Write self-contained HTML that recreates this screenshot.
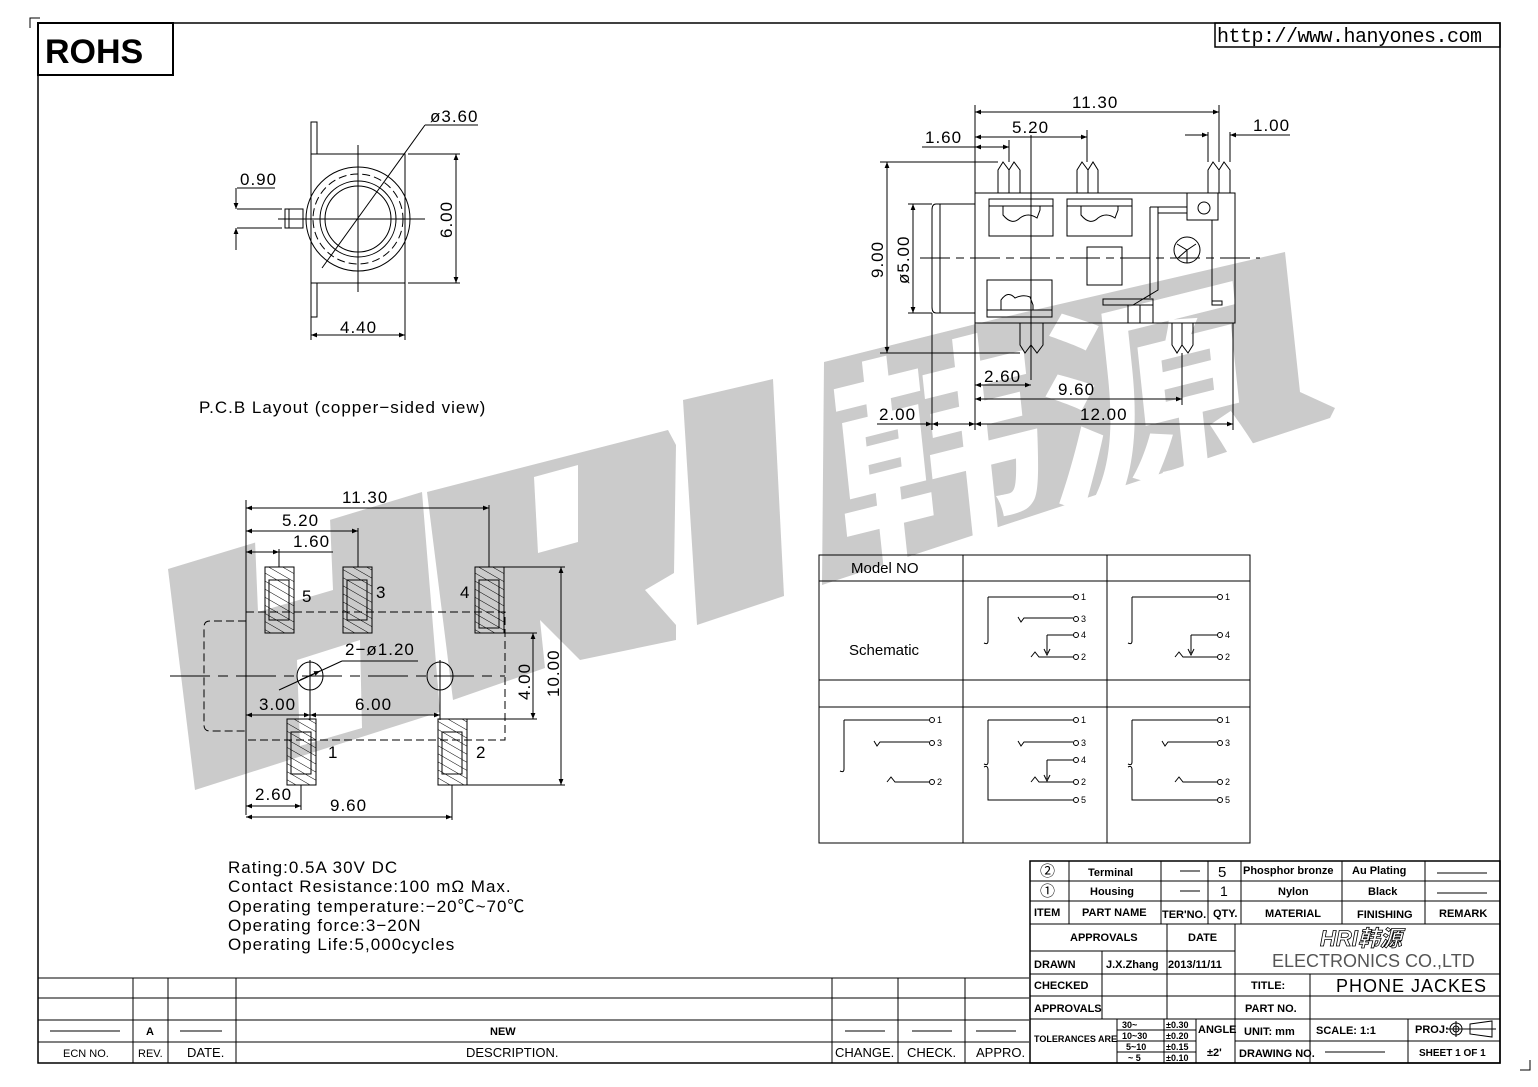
<!DOCTYPE html>
<html><head><meta charset="utf-8"><style>
html,body{margin:0;padding:0;background:#fff;}
svg{display:block;}
text{font-family:"Liberation Sans","Noto Sans CJK SC",sans-serif;fill:#000;}
.d{font-size:17px;letter-spacing:1px;}
.tb{font-size:11px;font-weight:bold;}
.s{font-size:9px;}
</style></head><body>
<svg width="1538" height="1087" viewBox="0 0 1538 1087" xmlns="http://www.w3.org/2000/svg">
<defs>
<marker id="a" viewBox="0 0 10 10" refX="10" refY="5" markerWidth="9" markerHeight="6" orient="auto-start-reverse" markerUnits="userSpaceOnUse"><path d="M0,1 L10,5 L0,9 z" fill="#000"/></marker>
<pattern id="h" width="7" height="7" patternUnits="userSpaceOnUse" patternTransform="rotate(-60)"><line x1="0" y1="0" x2="0" y2="7" stroke="#000" stroke-width="1"/></pattern>
</defs>
<!-- watermark -->
<g fill="#cbcbcb">
<polygon points="168,569 422,492 440,712 195,790"/>
<polygon points="427,492 668,430 676,445 674,573 645,590 676,625 676,640 580,660 540,620 545,668 453,700"/>
<polygon points="683,400 773,379 784,596 697,625"/>
<polygon points="824,362 1000,318 1285,252 1300,392 1335,408 1330,418 822,585"/>
</g>
<g fill="#fff">
<polygon points="255,540 330,518 333,590 258,612"/>
<polygon points="297,660 360,640 362,728 300,746"/>
<polygon points="534,477 578,465 578,542 538,553"/>
</g>
<text x="0" y="0" transform="translate(842,555) rotate(-14) skewX(-8)" style="font-size:215px;font-weight:bold;fill:#fff;font-family:'Noto Sans CJK SC',sans-serif;">韩源</text>

<g stroke="#000" fill="none" stroke-width="1">
<!-- frame -->
<rect x="38" y="23" width="1462" height="1040" stroke-width="1.5"/>
<path d="M30,28 V18 H40 M1530,1060 V1070 H1520"/>
<rect x="38" y="23" width="135" height="52" stroke-width="2"/>
<rect x="1215" y="23" width="285" height="24" stroke-width="1.5"/>

<!-- top-left view -->
<rect x="311" y="154" width="94" height="129"/>
<rect x="311" y="122" width="6" height="32"/>
<rect x="311" y="283" width="6" height="34"/>
<rect x="285" y="209" width="18" height="19"/>
<line x1="289" y1="209" x2="289" y2="228"/>
<circle cx="358" cy="219" r="52"/>
<circle cx="358" cy="219" r="45" stroke-dasharray="8,4"/>
<circle cx="358" cy="219" r="38"/>
<circle cx="358" cy="219" r="33"/>
<line x1="278" y1="219" x2="425" y2="219"/>
<line x1="358" y1="145" x2="358" y2="292"/>
<line x1="322" y1="268" x2="425" y2="125"/><line x1="425" y1="125" x2="478" y2="125"/>
<line x1="237" y1="209" x2="282" y2="209"/><line x1="237" y1="228" x2="282" y2="228"/>
<line x1="237" y1="188" x2="275" y2="188"/>
<line x1="236" y1="188" x2="236" y2="209" marker-end="url(#a)"/><line x1="236" y1="250" x2="236" y2="228" marker-end="url(#a)"/>
<line x1="408" y1="154" x2="460" y2="154"/><line x1="408" y1="283" x2="460" y2="283"/>
<line x1="456" y1="154" x2="456" y2="283" marker-start="url(#a)" marker-end="url(#a)"/>
<line x1="311" y1="317" x2="311" y2="340"/><line x1="405" y1="283" x2="405" y2="340"/>
<line x1="311" y1="335" x2="405" y2="335" marker-start="url(#a)" marker-end="url(#a)"/>

<!-- top-right view -->
<rect x="975" y="193" width="260" height="130"/>
<path d="M975,204 H936 Q932,204 932,210 V307 Q932,313 936,313 H975"/>
<line x1="940" y1="204" x2="940" y2="313"/>
<path d="M998,193 V170 L1003,162 L1009,170 L1014,162 L1020,170 V193"/>
<path d="M1077,193 V170 L1082,162 L1088,170 L1093,162 L1098,170 V193"/>
<path d="M1208,193 V170 L1213,162 L1219,170 L1224,162 L1230,170 V193"/>
<line x1="1009" y1="170" x2="1009" y2="193"/><line x1="1088" y1="170" x2="1088" y2="193"/><line x1="1219" y1="170" x2="1219" y2="193"/>
<path d="M1020,323 V345 L1025,353 L1031,345 L1037,353 L1043,345 V323"/>
<path d="M1172,323 V345 L1177,353 L1182,345 L1188,353 L1193,345 V323"/>
<line x1="1031" y1="323" x2="1031" y2="345"/><line x1="1182" y1="323" x2="1182" y2="345"/>
<rect x="989" y="199" width="64" height="37"/><line x1="989" y1="206" x2="1053" y2="206"/>
<path d="M1003,206 V215 Q1012,226 1020,218 Q1028,212 1037,218 L1040,210 V206"/>
<rect x="1067" y="199" width="65" height="37"/><line x1="1067" y1="206" x2="1132" y2="206"/>
<path d="M1081,206 V215 Q1090,226 1098,218 Q1106,212 1115,218 L1118,210 V206"/>
<rect x="987" y="280" width="65" height="37"/><line x1="987" y1="310" x2="1052" y2="310"/>
<path d="M1001,310 V300 Q1008,290 1015,298 Q1023,294 1030,297 L1033,305 V310"/>
<rect x="1087" y="247" width="35" height="38"/>
<line x1="1031" y1="135" x2="1031" y2="380"/>
<path d="M1150,207 V298 M1158,207 V290 L1133,305 M1150,207 H1187 M1158,213 H1187 M1187,193 V220 H1218 V193"/>
<circle cx="1204" cy="208" r="6"/>
<rect x="1103" y="299" width="50" height="6"/>
<path d="M1128,305 V323 M1140,305 V323 M1153,305 V323 M1212,220 V305 H1222 V301 H1212"/>
<circle cx="1187" cy="250" r="13"/>
<path d="M1177,244 L1187,250 L1196,244 M1187,250 V263 M1178,258 L1187,250"/>
<line x1="920" y1="258" x2="1260" y2="258" stroke-dasharray="30,6,8,6"/>
<line x1="880" y1="162" x2="998" y2="162"/><line x1="880" y1="353" x2="1020" y2="353"/>
<line x1="887" y1="162" x2="887" y2="353" marker-start="url(#a)" marker-end="url(#a)"/>
<line x1="908" y1="204" x2="932" y2="204"/><line x1="908" y1="313" x2="932" y2="313"/>
<line x1="913" y1="204" x2="913" y2="313" marker-start="url(#a)" marker-end="url(#a)"/>
<line x1="975" y1="105" x2="975" y2="193"/><line x1="1219" y1="105" x2="1219" y2="162"/>
<line x1="975" y1="112" x2="1219" y2="112" marker-start="url(#a)" marker-end="url(#a)"/>
<line x1="1087" y1="130" x2="1087" y2="162"/>
<line x1="975" y1="137" x2="1087" y2="137" marker-start="url(#a)" marker-end="url(#a)"/>
<line x1="1009" y1="140" x2="1009" y2="162"/>
<line x1="922" y1="147" x2="975" y2="147"/>
<line x1="975" y1="147" x2="1009" y2="147" marker-start="url(#a)" marker-end="url(#a)"/>
<line x1="1208" y1="132" x2="1208" y2="162"/><line x1="1230" y1="132" x2="1230" y2="162"/>
<line x1="1185" y1="135" x2="1208" y2="135" marker-end="url(#a)"/><line x1="1290" y1="135" x2="1230" y2="135" marker-end="url(#a)"/>
<line x1="932" y1="313" x2="932" y2="430"/><line x1="975" y1="323" x2="975" y2="430"/><line x1="1233" y1="323" x2="1233" y2="430"/>
<line x1="1182" y1="353" x2="1182" y2="405"/>
<line x1="975" y1="385" x2="1031" y2="385" marker-start="url(#a)" marker-end="url(#a)"/>
<line x1="975" y1="399" x2="1182" y2="399" marker-start="url(#a)" marker-end="url(#a)"/>
<line x1="877" y1="424" x2="932" y2="424" marker-end="url(#a)"/>
<line x1="932" y1="424" x2="975" y2="424" marker-start="url(#a)" marker-end="url(#a)"/>
<line x1="975" y1="424" x2="1233" y2="424" marker-start="url(#a)" marker-end="url(#a)"/>

<!-- PCB layout -->
<g fill="url(#h)">
<rect x="265" y="567" width="29" height="66"/><rect x="343" y="567" width="29" height="66"/><rect x="475" y="567" width="29" height="66"/>
<rect x="287" y="719" width="29" height="66"/><rect x="438" y="719" width="29" height="66"/>
</g>
<rect x="269" y="580" width="20" height="40"/><rect x="347" y="580" width="20" height="40"/><rect x="479" y="580" width="20" height="48"/>
<rect x="291" y="732" width="20" height="42"/><rect x="442" y="732" width="20" height="42"/>
<rect x="246" y="612" width="259" height="128" stroke-dasharray="8,4"/>
<path d="M246,621 H210 Q204,621 204,627 V725 Q204,731 210,731 H246" stroke-dasharray="8,4"/>
<ellipse cx="310" cy="676" rx="13" ry="14"/><ellipse cx="440" cy="676" rx="13" ry="14"/>
<line x1="170" y1="676" x2="505" y2="676" stroke-dasharray="40,8,10,8"/>
<line x1="310" y1="660" x2="310" y2="720"/><line x1="440" y1="660" x2="440" y2="720"/>
<line x1="246" y1="500" x2="246" y2="815"/>
<line x1="489" y1="505" x2="489" y2="567"/>
<line x1="246" y1="508" x2="489" y2="508" marker-start="url(#a)" marker-end="url(#a)"/>
<line x1="358" y1="528" x2="358" y2="567"/>
<line x1="246" y1="531" x2="358" y2="531" marker-start="url(#a)" marker-end="url(#a)"/>
<line x1="279" y1="549" x2="279" y2="567"/>
<line x1="246" y1="552" x2="279" y2="552" marker-start="url(#a)" marker-end="url(#a)"/><line x1="279" y1="552" x2="333" y2="552"/>
<line x1="504" y1="567" x2="565" y2="567"/><line x1="467" y1="785" x2="565" y2="785"/>
<line x1="561" y1="567" x2="561" y2="785" marker-start="url(#a)" marker-end="url(#a)"/>
<line x1="504" y1="633" x2="537" y2="633"/><line x1="467" y1="719" x2="537" y2="719"/>
<line x1="533" y1="633" x2="533" y2="719" marker-start="url(#a)" marker-end="url(#a)"/>
<line x1="418" y1="661" x2="342" y2="661"/><line x1="342" y1="661" x2="279" y2="690"/>
<line x1="300" y1="680" x2="320" y2="671" marker-end="url(#a)"/>
<line x1="246" y1="715" x2="310" y2="715" marker-start="url(#a)" marker-end="url(#a)"/>
<line x1="310" y1="715" x2="440" y2="715" marker-start="url(#a)" marker-end="url(#a)"/>
<line x1="301" y1="785" x2="301" y2="810"/><line x1="452" y1="785" x2="452" y2="820"/>
<line x1="246" y1="806" x2="301" y2="806" marker-start="url(#a)" marker-end="url(#a)"/>
<line x1="246" y1="817" x2="452" y2="817" marker-start="url(#a)" marker-end="url(#a)"/>

<!-- schematic table -->
<rect x="819" y="555" width="431" height="288"/>
<line x1="963" y1="555" x2="963" y2="843"/><line x1="1107" y1="555" x2="1107" y2="843"/>
<line x1="819" y1="581" x2="1250" y2="581"/><line x1="819" y1="680" x2="1250" y2="680"/><line x1="819" y1="707" x2="1250" y2="707"/>
</g>

<!-- schematic symbols -->
<g stroke="#000" fill="none" stroke-width="1">
<g transform="translate(963,581)">
<path d="M25,16 H110 M25,16 V60 Q25,64 21,62"/><circle cx="113" cy="16" r="2.5"/>
<path d="M55,36 L58,41 L61,37 H110"/><circle cx="113" cy="38" r="2.5"/>
<path d="M84,54 H110 M84,54 V72 M81,68 L84,74 L87,68"/><circle cx="113" cy="54" r="2.5"/>
<path d="M68,76 L72,71 L76,76 H110"/><circle cx="113" cy="76" r="2.5"/>
</g>
<g transform="translate(1107,581)">
<path d="M25,16 H110 M25,16 V60 Q25,64 21,62"/><circle cx="113" cy="16" r="2.5"/>
<path d="M84,54 H110 M84,54 V72 M81,68 L84,74 L87,68"/><circle cx="113" cy="54" r="2.5"/>
<path d="M68,76 L72,71 L76,76 H110"/><circle cx="113" cy="76" r="2.5"/>
</g>
<g transform="translate(819,707)">
<path d="M25,13 H110 M25,13 V62 Q25,66 21,64"/><circle cx="113" cy="13" r="2.5"/>
<path d="M55,34 L58,39 L61,35 H110"/><circle cx="113" cy="36" r="2.5"/>
<path d="M68,75 L72,70 L76,75 H110"/><circle cx="113" cy="75" r="2.5"/>
</g>
<g transform="translate(963,707)">
<path d="M25,13 H110 M25,13 V55 Q25,59 21,57"/><circle cx="113" cy="13" r="2.5"/>
<path d="M55,34 L58,39 L61,35 H110"/><circle cx="113" cy="36" r="2.5"/>
<path d="M84,53 H110 M84,53 V72 M81,68 L84,74 L87,68"/><circle cx="113" cy="53" r="2.5"/>
<path d="M68,75 L72,70 L76,75 H110"/><circle cx="113" cy="75" r="2.5"/>
<path d="M21,60 Q25,58 25,63 V93 H110"/><circle cx="113" cy="93" r="2.5"/>
</g>
<g transform="translate(1107,707)">
<path d="M25,13 H110 M25,13 V55 Q25,59 21,57"/><circle cx="113" cy="13" r="2.5"/>
<path d="M55,34 L58,39 L61,35 H110"/><circle cx="113" cy="36" r="2.5"/>
<path d="M68,75 L72,70 L76,75 H110"/><circle cx="113" cy="75" r="2.5"/>
<path d="M21,60 Q25,58 25,63 V93 H110"/><circle cx="113" cy="93" r="2.5"/>
</g>
</g>
<g class="s">
<text x="1081" y="600">1</text><text x="1081" y="622">3</text><text x="1081" y="638">4</text><text x="1081" y="660">2</text>
<text x="1225" y="600">1</text><text x="1225" y="638">4</text><text x="1225" y="660">2</text>
<text x="937" y="723">1</text><text x="937" y="746">3</text><text x="937" y="785">2</text>
<text x="1081" y="723">1</text><text x="1081" y="746">3</text><text x="1081" y="763">4</text><text x="1081" y="785">2</text><text x="1081" y="803">5</text>
<text x="1225" y="723">1</text><text x="1225" y="746">3</text><text x="1225" y="785">2</text><text x="1225" y="803">5</text>
</g>
<text x="851" y="573" style="font-size:15px">Model  NO</text>
<text x="849" y="655" style="font-size:15px">Schematic</text>

<!-- texts -->
<text x="45" y="63" style="font-size:34px;font-weight:bold">ROHS</text>
<text x="1217" y="42" style="font-family:'Liberation Mono',monospace;font-size:20px;letter-spacing:-0.5px">http://www.hanyones.com</text>
<g class="d">
<text x="430" y="122">ø3.60</text>
<text x="240" y="185">0.90</text>
<text x="340" y="333">4.40</text>
<text transform="translate(452,238) rotate(-90)">6.00</text>
<text x="1072" y="108">11.30</text>
<text x="1012" y="133">5.20</text>
<text x="925" y="143">1.60</text>
<text x="1253" y="131">1.00</text>
<text transform="translate(883,278) rotate(-90)">9.00</text>
<text transform="translate(909,284) rotate(-90)">ø5.00</text>
<text x="984" y="382">2.60</text>
<text x="1058" y="395">9.60</text>
<text x="879" y="420">2.00</text>
<text x="1080" y="420">12.00</text>
<text x="342" y="503">11.30</text>
<text x="282" y="526">5.20</text>
<text x="293" y="547">1.60</text>
<text x="302" y="602">5</text><text x="376" y="598">3</text><text x="460" y="598">4</text>
<text x="328" y="758">1</text><text x="476" y="758">2</text>
<text x="345" y="655">2−ø1.20</text>
<text x="259" y="710">3.00</text>
<text x="355" y="710">6.00</text>
<text transform="translate(530,700) rotate(-90)">4.00</text>
<text transform="translate(559,697) rotate(-90)">10.00</text>
<text x="255" y="800">2.60</text>
<text x="330" y="811">9.60</text>
<text x="199" y="413">P.C.B  Layout  (copper−sided  view)</text>
<text x="228" y="873">Rating:0.5A  30V  DC</text>
<text x="228" y="892">Contact  Resistance:100  mΩ  Max.</text>
<text x="228" y="912">Operating  temperature:−20℃~70℃</text>
<text x="228" y="931">Operating  force:3−20N</text>
<text x="228" y="950">Operating  Life:5,000cycles</text>
</g>

<!-- revision table -->
<g stroke="#000" stroke-width="1" fill="none">
<line x1="38" y1="978" x2="1029" y2="978"/><line x1="38" y1="998" x2="1029" y2="998"/><line x1="38" y1="1020" x2="1029" y2="1020"/><line x1="38" y1="1042" x2="1029" y2="1042"/>
<path d="M133,978 V1063 M168,978 V1063 M236,978 V1063 M832,978 V1063 M898,978 V1063 M965,978 V1063"/>
<path d="M50,1031 H120 M180,1031 H222 M845,1031 H885 M912,1031 H952 M976,1031 H1016"/>
<rect x="1030" y="861" width="470" height="202" stroke-width="1.5"/>
<path d="M1030,881 H1500 M1030,901 H1500 M1030,924 H1500 M1030,951 H1235 M1030,974 H1500 M1030,996 H1500 M1030,1019 H1500"/>
<path d="M1069,861 V924 M1161,861 V924 M1208,861 V924 M1241,861 V924 M1342,861 V924 M1425,861 V924"/>
<path d="M1102,951 V1019 M1167,924 V1019 M1235,924 V1063 M1310,974 V1063 M1408,1019 V1063 M1235,1041 H1500"/>
<path d="M1117,1019 V1063 M1164,1019 V1063 M1196,1019 V1063 M1117,1030 H1196 M1117,1041 H1196 M1117,1052 H1196"/>
<path d="M1180,871 H1200 M1180,891 H1200 M1437,873 H1487 M1437,893 H1487 M1325,1052 H1385"/>
<circle cx="1456" cy="1029" r="6"/><circle cx="1456" cy="1029" r="3"/><path d="M1446,1029 H1496 M1456,1021 V1037 M1470,1024 L1492,1021 V1037 L1470,1034 Z"/>
</g>
<g style="font-size:11px">
<text x="63" y="1057" style="font-size:11px">ECN  NO.</text>
<text x="138" y="1057">REV.</text>
<text x="187" y="1057" style="font-size:13px">DATE.</text>
<text x="466" y="1057" style="font-size:13px">DESCRIPTION.</text>
<text x="835" y="1057" style="font-size:13px">CHANGE.</text>
<text x="907" y="1057" style="font-size:13px">CHECK.</text>
<text x="976" y="1057" style="font-size:13px">APPRO.</text>
<text x="146" y="1035" class="tb">A</text>
<text x="490" y="1035" class="tb">NEW</text>
</g>
<g class="tb">
<text x="1040" y="876" style="font-size:15px;font-weight:normal">②</text>
<text x="1040" y="896" style="font-size:15px;font-weight:normal">①</text>
<text x="1088" y="876">Terminal</text><text x="1090" y="895">Housing</text>
<text x="1218" y="877" style="font-size:15px;font-weight:normal">5</text><text x="1220" y="896" style="font-size:14px;font-weight:normal">1</text>
<text x="1243" y="874">Phosphor  bronze</text><text x="1352" y="874">Au  Plating</text>
<text x="1278" y="895">Nylon</text><text x="1368" y="895">Black</text>
<text x="1034" y="916">ITEM</text><text x="1082" y="916">PART  NAME</text><text x="1162" y="918">TER'NO.</text><text x="1213" y="917">QTY.</text>
<text x="1265" y="917">MATERIAL</text><text x="1357" y="918">FINISHING</text><text x="1439" y="917">REMARK</text>
<text x="1070" y="941">APPROVALS</text><text x="1188" y="941">DATE</text>
<text x="1034" y="968">DRAWN</text><text x="1106" y="968">J.X.Zhang</text><text x="1168" y="968">2013/11/11</text>
<text x="1034" y="989">CHECKED</text><text x="1034" y="1012">APPROVALS</text>
<text x="1251" y="989">TITLE:</text><text x="1245" y="1012">PART  NO.</text>
<text x="1034" y="1042" style="font-size:9px">TOLERANCES  ARE</text>
<text x="1122" y="1028" style="font-size:9px">30~</text><text x="1166" y="1028" style="font-size:9px">±0.30</text>
<text x="1122" y="1039" style="font-size:9px">10~30</text><text x="1166" y="1039" style="font-size:9px">±0.20</text>
<text x="1126" y="1050" style="font-size:9px">5~10</text><text x="1166" y="1050" style="font-size:9px">±0.15</text>
<text x="1128" y="1061" style="font-size:9px">~ 5</text><text x="1166" y="1061" style="font-size:9px">±0.10</text>
<text x="1198" y="1033">ANGLE</text><text x="1207" y="1056">±2'</text>
<text x="1244" y="1035">UNIT:  mm</text><text x="1316" y="1034">SCALE:   1:1</text><text x="1415" y="1033">PROJ:</text>
<text x="1239" y="1057">DRAWING  NO.</text><text x="1419" y="1056" style="font-size:10px">SHEET   1  OF  1</text>
</g>
<text x="1320" y="946" style="font-size:22px;font-weight:bold;font-style:italic;fill:#fff;stroke:#000;stroke-width:0.8">HRI韩源</text>
<text x="1272" y="967" style="font-size:18px;fill:#555">ELECTRONICS  CO.,LTD</text>
<text x="1336" y="992" style="font-size:18px;letter-spacing:1px">PHONE  JACKES</text>
</svg>
</body></html>
